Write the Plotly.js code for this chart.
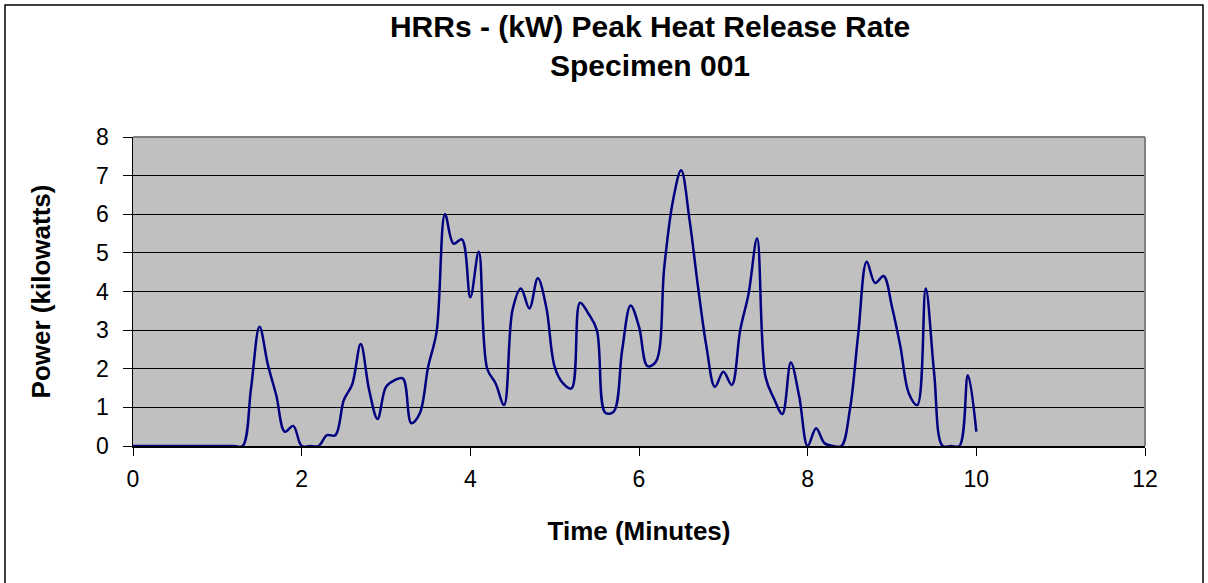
<!DOCTYPE html>
<html>
<head>
<meta charset="utf-8">
<script src="https://cdn.plot.ly/plotly-3.0.1.min.js"></script>
<style>
  html, body { margin: 0; padding: 0; background: #ffffff; }
  #chart { width: 1208px; height: 583px; }
</style>
</head>
<body>
<div id="chart"></div>
<script>
// Time in minutes (sampled every 0.1 min)
const timeMinutes = [
  0.0, 0.1, 0.2, 0.3, 0.4, 0.5, 0.6, 0.7, 0.8, 0.9,
  1.0, 1.1, 1.2, 1.3, 1.4, 1.5, 1.6, 1.7, 1.8, 1.9,
  2.0, 2.1, 2.2, 2.3, 2.4, 2.5, 2.6, 2.7, 2.8, 2.9,
  3.0, 3.1, 3.2, 3.3, 3.4, 3.5, 3.6, 3.7, 3.8, 3.9,
  4.0, 4.1, 4.2, 4.3, 4.4, 4.5, 4.6, 4.7, 4.8, 4.9,
  5.0, 5.1, 5.2, 5.3, 5.4, 5.5, 5.6, 5.7, 5.8, 5.9,
  6.0, 6.1, 6.2, 6.3, 6.4, 6.5, 6.6, 6.7, 6.8, 6.9,
  7.0, 7.1, 7.2, 7.3, 7.4, 7.5, 7.6, 7.7, 7.8, 7.9,
  8.0, 8.1, 8.2, 8.3, 8.4, 8.5, 8.6, 8.7, 8.8, 8.9,
  9.0, 9.1, 9.2, 9.3, 9.4, 9.5, 9.6, 9.7, 9.8, 9.9,
  10.0
];

// Heat release rate, kW
const powerKW = [
  0, 0, 0, 0, 0, 0, 0, 0, 0, 0,
  0, 0, 0, 0, 1.50, 3.09, 2.10, 1.30, 0.37, 0.52,
  0, 0, 0, 0.28, 0.28, 1.19, 1.60, 2.64, 1.45, 0.70,
  1.53, 1.70, 1.75, 0.59, 0.84, 2.05, 2.96, 6.00, 5.24, 5.35,
  3.85, 5.03, 2.00, 1.62, 1.06, 3.52, 4.08, 3.56, 4.34, 3.60,
  2.05, 1.62, 1.49, 3.71, 3.43, 3.00, 0.86, 0.89, 2.48, 3.64,
  3.09, 2.07, 2.18, 4.64, 6.32, 7.14, 5.84, 4.12, 2.57, 1.53,
  1.92, 1.58, 3.00, 3.95, 5.37, 1.79, 1.23, 0.83, 2.16, 1.28,
  0, 0.46, 0.07, 0, 0, 0.93, 2.91, 4.77, 4.22, 4.40,
  3.60, 2.57, 1.36, 1.06, 4.08, 1.88, 0, 0, 0, 1.83,
  0.37
];

const xTicks = [0, 2, 4, 6, 8, 10, 12];
const yTicks = [0, 1, 2, 3, 4, 5, 6, 7, 8];

const chartTitle = 'HRRs - (kW) Peak Heat Release Rate<br>Specimen 001';
const xTitle = 'Time (Minutes)';
const yTitle = 'Power (kilowatts)';

const FONT = 'Liberation Sans, Arial, Helvetica, sans-serif';

const trace = {
  x: timeMinutes,
  y: powerKW,
  type: 'scatter',
  mode: 'lines',
  line: { color: '#000080', width: 2.5, shape: 'spline', smoothing: 1 },
  hoverinfo: 'x+y',
  showlegend: false
};

const layout = {
  width: 1208,
  height: 583,
  margin: { l: 133, r: 63, t: 137, b: 137, pad: 0 },
  paper_bgcolor: '#ffffff',
  plot_bgcolor: '#C0C0C0',
  font: { family: FONT, color: '#000000' },
  title: {
    text: chartTitle,
    font: { family: FONT, size: 30, color: '#000000', weight: 'bold' },
    x: 650 / 1208,
    xref: 'container',
    xanchor: 'center',
    y: 0.937,
    yref: 'container',
    yanchor: 'top'
  },
  xaxis: {
    range: [0, 12],
    tickvals: xTicks,
    ticktext: xTicks.map(String),
    showgrid: false,
    zeroline: false,
    showline: true,
    linecolor: '#000000',
    linewidth: 1.5,
    ticks: 'outside',
    ticklen: 8,
    tickwidth: 1,
    tickcolor: '#000000',
    ticklabelstandoff: 4,
    tickfont: { family: FONT, size: 23, color: '#000000' },
    title: {
      text: xTitle,
      font: { family: FONT, size: 26, color: '#000000', weight: 'bold' },
      standoff: 30
    },
    fixedrange: true
  },
  yaxis: {
    range: [0, 8],
    tickvals: yTicks,
    ticktext: yTicks.map(String),
    showgrid: true,
    gridcolor: '#000000',
    gridwidth: 1,
    zeroline: false,
    showline: true,
    linecolor: '#000000',
    linewidth: 1.5,
    ticks: 'outside',
    ticklen: 9,
    tickwidth: 1,
    tickcolor: '#000000',
    ticklabelstandoff: 9,
    tickfont: { family: FONT, size: 23, color: '#000000' },
    title: {
      text: yTitle,
      font: { family: FONT, size: 26, color: '#000000', weight: 'bold' },
      standoff: 38
    },
    fixedrange: true
  },
  shapes: [
    // plot-area top & right edges (grey)
    { type: 'line', xref: 'paper', yref: 'paper', x0: 0, x1: 1, y0: 1, y1: 1,
      line: { color: '#808080', width: 2 } },
    { type: 'line', xref: 'paper', yref: 'paper', x0: 1, x1: 1, y0: 0, y1: 1,
      line: { color: '#808080', width: 2 } },
    // chart-area outer border
    { type: 'rect', xref: 'paper', yref: 'paper',
      x0: (5 - 133) / 1012, x1: (1203 - 133) / 1012,
      y0: (446 - 600) / 309, y1: (446 - 5) / 309,
      line: { color: '#000000', width: 1.5 }, fillcolor: 'rgba(0,0,0,0)' }
  ]
};

Plotly.newPlot('chart', [trace], layout, { displayModeBar: false, staticPlot: true });
</script>
</body>
</html>
